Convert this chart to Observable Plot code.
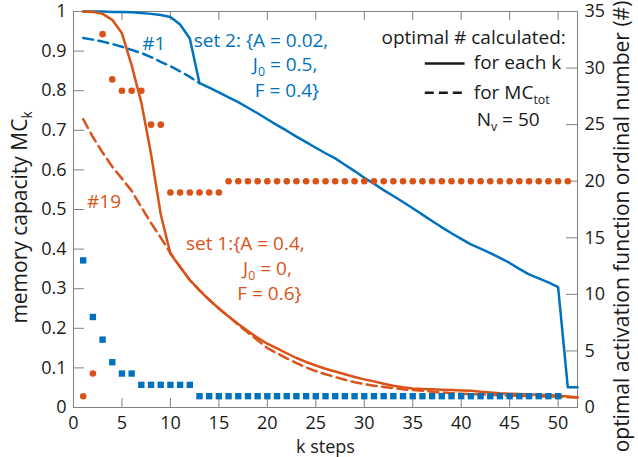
<!DOCTYPE html>
<html><head><meta charset="utf-8">
<script src="https://cdn.jsdelivr.net/npm/d3@7"></script>
<script src="https://cdn.jsdelivr.net/npm/@observablehq/plot@0.6"></script>
<style>
html,body{margin:0;padding:0;background:#fff;}
</style>
</head><body><div id="chart"></div>
<script>
// ---------- data ----------
const kSteps = [1,2,3,4,5,6,7,8,9,10,11,12,13,14,15,16,17,18,19,20,21,22,23,24,25,26,27,28,29,30,31,32,33,34,35,36,37,38,39,40,41,42,43,44,45,46,47,48,49,50,51,52];

// set 2 (blue), memory capacity MC_k, optimal # for each k
const set2EachK = [1.000,1.000,1.000,0.999,0.999,0.998,0.996,0.994,0.991,0.986,
  0.967,0.932,0.819,0.808,0.796,0.783,0.771,0.757,0.743,0.728,
  0.713,0.699,0.684,0.670,0.656,0.642,0.629,0.613,0.597,0.580,
  0.565,0.549,0.534,0.519,0.503,0.487,0.471,0.455,0.440,0.426,
  0.412,0.401,0.390,0.378,0.365,0.350,0.336,0.326,0.316,0.304,
  0.051,0.051];
// set 2 (blue), optimal # for MC_tot (k = 1..13, then identical to the solid line)
const set2TotK = [1,2,3,4,5,6,7,8,9,10,11,12,13];
const set2Tot = [0.933,0.929,0.924,0.918,0.911,0.903,0.895,0.885,0.873,0.862,0.849,0.835,0.819];

// set 1 (orange), optimal # for each k
const set1EachK = [1.000,0.999,0.994,0.979,0.945,0.864,0.770,0.640,0.488,0.388,
  0.355,0.322,0.296,0.272,0.250,0.230,0.211,0.193,0.176,0.161,
  0.149,0.137,0.125,0.115,0.106,0.098,0.091,0.084,0.077,0.071,
  0.066,0.060,0.055,0.051,0.048,0.047,0.046,0.045,0.044,0.043,
  0.042,0.040,0.038,0.036,0.035,0.034,0.033,0.032,0.031,0.030,
  0.028,0.026];
// set 1 (orange), optimal # for MC_tot
const set1Tot = [0.728,0.683,0.644,0.608,0.578,0.547,0.506,0.466,0.429,0.390,
  0.355,0.322,0.296,0.272,0.250,0.230,0.209,0.189,0.170,0.150,
  0.137,0.124,0.112,0.101,0.092,0.084,0.077,0.070,0.064,0.059,
  0.055,0.052,0.049,0.046,0.044,0.042,0.040,0.038,0.036,0.035,
  0.034,0.033,0.032,0.031,0.030,0.029,0.029,0.028,0.028,0.027,
  0.026,0.025];

// optimal activation function ordinal number (right axis)
const set1OrdK = [1,2,3,4,5,6,7,8,9,10,11,12,13,14,15,16,17,18,19,20,21,22,23,24,25,26,27,28,29,30,31,32,33,34,35,36,37,38,39,40,41,42,43,44,45,46,47,48,49,50,51];
const set1Ord = [1,3,33,29,28,28,28,25,25,19,19,19,19,19,19,
  20,20,20,20,20,20,20,20,20,20,20,20,20,20,20,20,20,20,20,20,20,20,20,20,20,20,20,20,20,20,20,20,20,20,20,20];
const set2OrdK = [1,2,3,4,5,6,7,8,9,10,11,12,13,14,15,16,17,18,19,20,21,22,23,24,25,26,27,28,29,30,31,32,33,34,35,36,37,38,39,40,41,42,43,44,45,46,47,48,49,50];
const set2Ord = [13,8,6,4,3,3,2,2,2,2,2,2,
  1,1,1,1,1,1,1,1,1,1,1,1,1,1,1,1,1,1,1,1,1,1,1,1,1,1,1,1,1,1,1,1,1,1,1,1,1,1];

// ticks
const xTicks = [0,5,10,15,20,25,30,35,40,45,50];
const xTickLabels = ["0","5","10","15","20","25","30","35","40","45","50"];
const leftTicks = [0,0.1,0.2,0.3,0.4,0.5,0.6,0.7,0.8,0.9,1];
const leftTickLabels = ["0","0.1","0.2","0.3","0.4","0.5","0.6","0.7","0.8","0.9","1"];
const rightTicks = [0,5,10,15,20,25,30,35];
const rightTickLabels = ["0","5","10","15","20","25","30","35"];
const rightMax = 35;

// annotations (k position, MC value, text)
const blueNotes = [
  {k: 7.1, v: 0.918, t: "#1"},
  {k: 12.4, v: 0.927, t: "set 2: {A = 0.02,"},
  {k: 18.5, v: 0.866, t: "J_{0} = 0.5,"},
  {k: 18.7, v: 0.800, t: "F = 0.4}"}
];
const orangeNotes = [
  {k: 1.4, v: 0.518, t: "#19"},
  {k: 11.6, v: 0.412, t: "set 1:{A = 0.4,"},
  {k: 17.5, v: 0.351, t: "J_{0} = 0,"},
  {k: 16.9, v: 0.288, t: "F = 0.6}"}
];
const legendTitle = [{k: 50.8, v: 0.934, t: "optimal # calculated:"}];
const legendItems = [
  {k: 41.3, v: 0.869, t: "for each k", x1: 36.3, x2: 40.4, dash: null},
  {k: 41.3, v: 0.795, t: "for MC_{tot}", x1: 36.3, x2: 40.4, dash: "9,5"},
  {k: 41.6, v: 0.726, t: "N_{v} = 50"}
];
const yLabelLeft = ["memory capacity MC_{k}"];
const yLabelRight = ["optimal activation function ordinal number (#)"];
const xLabel = ["k steps"];

// ---------- chart ----------
const W = 638, H = 457, mL = 73, mR = 61, mT = 11, mB = 50;
const innerW = W - mL - mR, innerH = H - mT - mB;
const blue = "#0072BD", orange = "#D95319", gray = "#808080", ink = "#1a1a1a";
const FONT = "'Open Sans', sans-serif";

const rows = (ks, vs) => ks.map((k, i) => ({k, v: vs[i]}));
const ordRows = (ks, vs) => ks.map((k, i) => ({k, v: vs[i] / rightMax}));

const chart = Plot.plot({
  width: W, height: H,
  marginLeft: mL, marginRight: mR, marginTop: mT, marginBottom: mB,
  x: {domain: [0, 52]},
  y: {domain: [0, 1]},
  style: {fontFamily: FONT, fontSize: "18px", color: ink, background: "#fff", overflow: "visible"},
  marks: [
    Plot.frame({stroke: gray, strokeWidth: 1}),
    Plot.tickX(xTicks.filter(d => d > 0), {x: d => d, stroke: gray, insetTop: innerH - 9}),
    Plot.tickX(xTicks.filter(d => d > 0), {x: d => d, stroke: gray, insetBottom: innerH - 9}),
    Plot.tickY(leftTicks.filter(d => d > 0 && d < 1), {y: d => d, stroke: gray, insetRight: innerW - 11}),
    Plot.tickY(rightTicks.filter(d => d > 0 && d < rightMax), {y: d => d / rightMax, stroke: gray, insetLeft: innerW - 11}),
    Plot.axisX({ticks: xTicks, tickSize: 0, tickPadding: 9, label: null,
      tickFormat: d => xTickLabels[xTicks.indexOf(d)], fill: ink}),
    Plot.axisY({ticks: leftTicks, tickSize: 0, tickPadding: 7, label: null,
      tickFormat: d => leftTickLabels[leftTicks.indexOf(d)], fill: ink}),
    Plot.axisY({anchor: "right", ticks: rightTicks.map(d => d / rightMax), tickSize: 0, tickPadding: 7, label: null,
      tickFormat: d => rightTickLabels[rightTicks.indexOf(Math.round(d * rightMax))], fill: ink}),

    // lines
    Plot.line(rows(set2TotK, set2Tot), {x: "k", y: "v", stroke: blue, strokeWidth: 2.5, strokeDasharray: "10,5.5"}),
    Plot.line(rows(kSteps, set1Tot), {x: "k", y: "v", stroke: orange, strokeWidth: 2.5, strokeDasharray: "10,5.5"}),
    Plot.line(rows(kSteps, set2EachK), {x: "k", y: "v", stroke: blue, strokeWidth: 2.5}),
    Plot.line(rows(kSteps, set1EachK), {x: "k", y: "v", stroke: orange, strokeWidth: 2.5}),

    // ordinal numbers
    Plot.dot(ordRows(set2OrdK, set2Ord), {x: "k", y: "v", symbol: "square", r: 3.6, fill: blue, stroke: null}),
    Plot.dot(ordRows(set1OrdK, set1Ord), {x: "k", y: "v", r: 3.3, fill: orange, stroke: null}),

    // annotations
    Plot.text(blueNotes, {x: "k", y: "v", text: "t", fill: blue, textAnchor: "start", fontSize: 19}),
    Plot.text(orangeNotes, {x: "k", y: "v", text: "t", fill: orange, textAnchor: "start", fontSize: 19}),

    // legend
    Plot.text(legendTitle, {x: "k", y: "v", text: "t", fill: ink, textAnchor: "end", fontSize: 19}),
    Plot.text(legendItems, {x: "k", y: "v", text: "t", fill: ink, textAnchor: "start", fontSize: 19}),
    Plot.ruleY(legendItems.filter(d => d.x1 != null && !d.dash), {y: "v", x1: "x1", x2: "x2", stroke: ink, strokeWidth: 2.5}),
    Plot.ruleY(legendItems.filter(d => d.x1 != null && d.dash), {y: "v", x1: "x1", x2: "x2", stroke: ink, strokeWidth: 2.5, strokeDasharray: "9,5"}),

    // axis titles
    Plot.text(yLabelLeft, {frameAnchor: "left", text: d => d, rotate: -90, dx: -53, dy: 8,
      textAnchor: "middle", lineAnchor: "middle", fill: ink, fontSize: 21}),
    Plot.text(yLabelRight, {frameAnchor: "right", text: d => d, rotate: -90, dx: 45, dy: 17,
      textAnchor: "middle", lineAnchor: "middle", fill: ink, fontSize: 21}),
    Plot.text(xLabel, {frameAnchor: "bottom", text: d => d, dy: 40,
      textAnchor: "middle", lineAnchor: "middle", fill: ink, fontSize: 18})
  ]
});

// turn "_{...}" into real subscript tspans
function applySubscripts(root) {
  const ns = "http://www.w3.org/2000/svg";
  root.querySelectorAll("text, tspan").forEach(el => {
    if (el.children.length) return;
    const s = el.textContent;
    if (!s.includes("_{")) return;
    el.textContent = "";
    const re = /_\{([^}]*)\}/g;
    let last = 0, m, shifted = false;
    while ((m = re.exec(s))) {
      if (m.index > last) {
        const t = document.createElementNS(ns, "tspan");
        t.textContent = s.slice(last, m.index);
        if (shifted) { t.setAttribute("dy", "-5"); shifted = false; }
        el.appendChild(t);
      }
      const sub = document.createElementNS(ns, "tspan");
      sub.textContent = m[1];
      sub.setAttribute("dy", "5");
      sub.setAttribute("font-size", "0.65em");
      el.appendChild(sub);
      shifted = true;
      last = re.lastIndex;
    }
    if (last < s.length) {
      const t = document.createElementNS(ns, "tspan");
      t.textContent = s.slice(last);
      if (shifted) t.setAttribute("dy", "-5");
      el.appendChild(t);
    }
  });
}
applySubscripts(chart);
document.getElementById("chart").appendChild(chart);
</script>
</body></html>
